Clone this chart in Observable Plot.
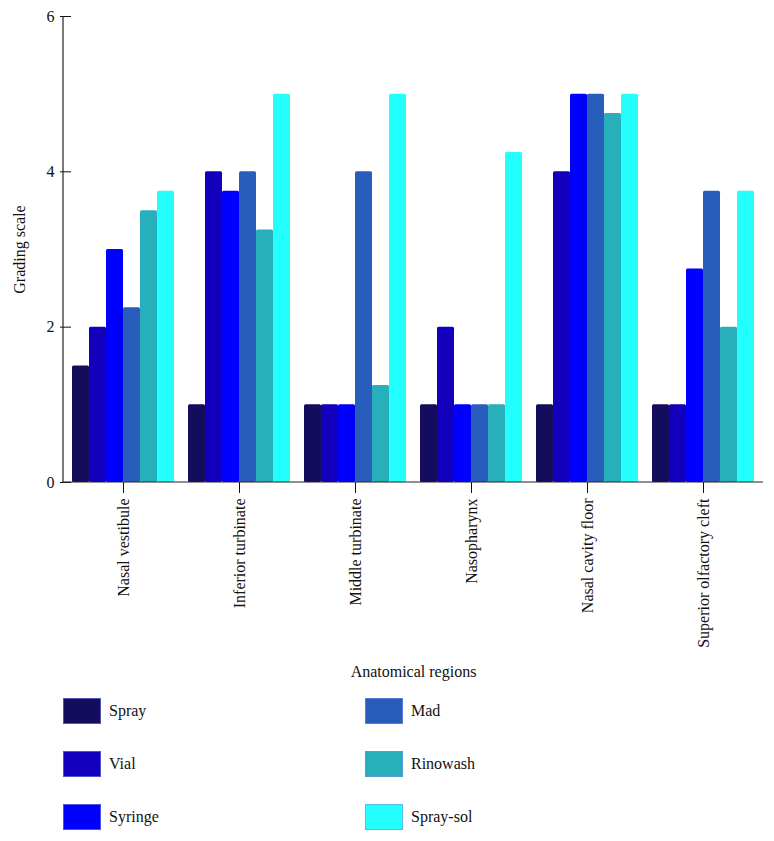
<!DOCTYPE html>
<html>
<head>
<meta charset="utf-8">
<script src="https://cdn.jsdelivr.net/npm/d3@7"></script>
<script src="https://cdn.jsdelivr.net/npm/@observablehq/plot@0.6"></script>
<style>
  html, body { margin: 0; padding: 0; background: #fff; }
  #wrap { position: relative; width: 774px; height: 841px; font-family: "Liberation Serif", "DejaVu Serif", serif; }
  #legend { position: absolute; left: 0; top: 690px; width: 774px; height: 151px; }
  .item { position: absolute; display: flex; align-items: center; font-size: 16px; color: #111; }
  .sw { width: 38px; height: 26px; box-sizing: border-box; border: 1px solid rgba(120,140,230,0.6); margin-right: 8px; }
</style>
</head>
<body>
<div id="wrap"><div id="chart"></div><div id="legend"></div></div>
<script>
const regions = ["Nasal vestibule", "Inferior turbinate", "Middle turbinate", "Nasopharynx", "Nasal cavity floor", "Superior olfactory cleft"];
const methods = ["Spray", "Vial", "Syringe", "Mad", "Rinowash", "Spray-sol"];
const methodColors = ["#140c5c", "#1200bd", "#0000fe", "#285dbb", "#27b0bb", "#22fffe"];
const spray    = [1.5, 1, 1, 1, 1, 1];
const vial     = [2, 4, 1, 2, 4, 1];
const syringe  = [3, 3.75, 1, 1, 5, 2.75];
const mad      = [2.25, 4, 4, 1, 5, 3.75];
const rinowash = [3.5, 3.25, 1.25, 1, 4.75, 2];
const spraySol = [3.75, 5, 5, 4.25, 5, 3.75];
const yTicks = [0, 2, 4, 6];
const xTitle = "Anatomical regions";
const yTitle = "Grading scale";

const series = [spray, vial, syringe, mad, rinowash, spraySol];
const data = [];
regions.forEach((r, i) => methods.forEach((m, j) => data.push({region: r, method: m, value: series[j][i]})));

const font = '"Liberation Serif", "DejaVu Serif", serif';

const plot = Plot.plot({
  width: 774,
  height: 690,
  marginTop: 16,
  marginLeft: 63,
  marginRight: 11,
  marginBottom: 208,
  style: {fontFamily: font, fontSize: "16px", color: "#111", background: "#fff"},
  fx: {domain: regions, paddingInner: 0.1, paddingOuter: 0.05, label: null},
  x: {domain: methods, padding: 0, axis: null},
  y: {domain: [0, 6], ticks: yTicks},
  color: {domain: methods, range: methodColors},
  marks: [
    Plot.barY(data, {fx: "region", x: "method", y: "value", fill: "method", rx: 1.5}),
    Plot.axisY({ticks: yTicks, tickFormat: d => String(d), tickSize: 11, tickPadding: 6, label: yTitle, labelAnchor: "center", labelArrow: "none", labelOffset: 58, fontSize: 16}),
    Plot.axisFx({anchor: "bottom", tickSize: 11, tickPadding: 5, tickRotate: -90, label: xTitle, labelAnchor: "center", labelArrow: "none", labelOffset: 194, fontSize: 16})
  ]
});
document.getElementById("chart").appendChild(plot);

// axis domain lines, positioned from the plot's own scales
const svg = d3.select(plot.tagName.toLowerCase() === "svg" ? plot : plot.querySelector("svg"));
const fxR = plot.scale("fx").range;
const yS = plot.scale("y");
const y0 = yS.apply(0), y6 = yS.apply(6);
svg.append("line").attr("x1", fxR[0]).attr("x2", fxR[1]).attr("y1", y0).attr("y2", y0)
  .attr("stroke", "#222").attr("stroke-width", 1.2);
svg.append("line").attr("x1", fxR[0]).attr("x2", fxR[0]).attr("y1", y0).attr("y2", y6)
  .attr("stroke", "#222").attr("stroke-width", 1.2);

// legend (two columns)
const color = plot.scale("color");
const legend = document.getElementById("legend");
const colLeft = [63, 365];
const rowTop = [8, 61, 114];
methods.forEach((m, i) => {
  const col = Math.floor(i / 3), row = i % 3;
  const it = document.createElement("div");
  it.className = "item";
  it.style.left = colLeft[col] + "px";
  it.style.top = rowTop[row] + "px";
  const sw = document.createElement("div");
  sw.className = "sw";
  sw.style.background = color.apply(m);
  const lb = document.createElement("span");
  lb.textContent = m;
  it.appendChild(sw); it.appendChild(lb);
  legend.appendChild(it);
});
</script>
</body>
</html>
